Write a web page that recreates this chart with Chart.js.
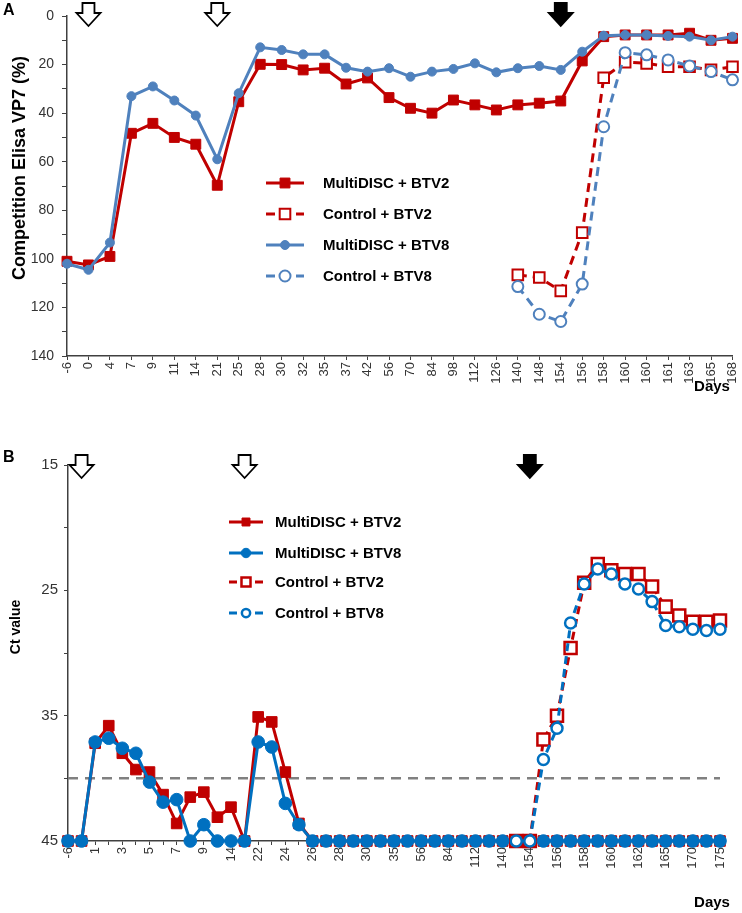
<!DOCTYPE html>
<html>
<head>
<meta charset="utf-8">
<script src="https://cdn.jsdelivr.net/npm/chart.js@4.4.1/dist/chart.umd.min.js"></script>
<style>
  body { margin: 0; background: #fff; }
  canvas { position: absolute; left: 0; }
  #panelA { top: 0; }
  #panelB { top: 440px; }
</style>
</head>
<body>
<canvas id="panelA" width="742" height="440"></canvas>
<canvas id="panelB" width="742" height="473"></canvas>
<script>
// ---- Panel A: Competition ELISA VP7 (%) ----
var diasA = ['-6','0','4','7','9','11','14','21','25','28','30','32','35','37','42','56','70','84','98','112','126','140','148','154','156','158','160','160','161','163','165','168'];
var multiBtv2A = [101, 102.5, 99, 48.3, 44.2, 50, 52.8, 69.7, 35.3, 19.9, 20, 22.2, 21.5, 28, 25.5, 33.6, 38, 40, 34.6, 36.6, 38.7, 36.6, 35.9, 35, 18.5, 8.5, 7.8, 7.8, 7.8, 7.1, 10, 9.2];
var multiBtv8A = [102, 104.5, 93.3, 33, 29, 34.8, 41, 59, 31.8, 12.9, 14, 15.8, 15.8, 21.3, 22.9, 21.5, 25, 22.9, 21.8, 19.5, 23.2, 21.5, 20.6, 22.2, 14.7, 8.1, 7.8, 7.8, 8.2, 8.5, 10, 8.5];
var controlBtv2A = [null, null, null, null, null, null, null, null, null, null, null, null, null, null, null, null, null, null, null, null, null,
  106.6, 107.7, 113.2, 89.2, 25.4, 19, 19.5, 20.9, 20.9, 22.2, 20.9];
var controlBtv8A = [null, null, null, null, null, null, null, null, null, null, null, null, null, null, null, null, null, null, null, null, null,
  111.4, 122.8, 125.8, 110.4, 45.6, 15.1, 16, 18.1, 20.6, 22.9, 26.3];

// ---- Panel B: Ct value (RT-PCR) ----
var diasB = ['-6','0','1','2','3','4','5','6','7','8','9','10','14','21','22','23','24','25','26','27','28','29','30','32','35','42','56','70','84','98','112','126','140','148','154','155','156','157','158','159','160','161','162','163','165','168','170','172','175'];
var multiBtv2B = [45, 45, 37.2, 35.8, 38.0, 39.3, 39.5, 41.3, 43.6, 41.5, 41.1, 43.1, 42.3, 45, 35.1, 35.5, 39.5, 43.6,
  45, 45, 45, 45, 45, 45, 45, 45, 45, 45, 45, 45, 45, 45, 45, 45, 45, 45, 45, 45, 45, 45, 45, 45, 45, 45, 45, 45, 45, 45, 45];
var multiBtv8B = [45, 45, 37.1, 36.8, 37.6, 38.0, 40.3, 41.9, 41.7, 45, 43.7, 45, 45, 45, 37.1, 37.5, 42.0, 43.7,
  45, 45, 45, 45, 45, 45, 45, 45, 45, 45, 45, 45, 45, 45, 45, 45, 45, 45, 45, 45, 45, 45, 45, 45, 45, 45, 45, 45, 45, 45, 45];
var controlBtv2B = [null, null, null, null, null, null, null, null, null, null, null, null, null, null, null, null, null, null,
  null, null, null, null, null, null, null, null, null, null, null, null, null, null, null,
  45, 45, 36.9, 35.0, 29.6, 24.4, 22.9, 23.4, 23.7, 23.7, 24.7, 26.3, 27.0, 27.5, 27.5, 27.4];
var controlBtv8B = [null, null, null, null, null, null, null, null, null, null, null, null, null, null, null, null, null, null,
  null, null, null, null, null, null, null, null, null, null, null, null, null, null, null,
  45, 45, 38.5, 36.0, 27.6, 24.5, 23.3, 23.7, 24.5, 24.9, 25.9, 27.8, 27.9, 28.1, 28.2, 28.1];

var ROJO = '#C00000', AZUL_A = '#4F81BD', AZUL_B = '#0070C0';
var EJE = '#404040';

// marcador para la leyenda dibujada a mano
function marcador(ctx, estilo, x, y, r, relleno, borde, ancho) {
  ctx.save();
  ctx.setLineDash([]);
  ctx.beginPath();
  if (estilo === 'rect') {
    var s = r * Math.SQRT1_2;
    ctx.rect(x - s, y - s, 2 * s, 2 * s);
  } else {
    ctx.arc(x, y, r, 0, Math.PI * 2);
  }
  ctx.fillStyle = relleno;
  ctx.fill();
  ctx.lineWidth = ancho;
  ctx.strokeStyle = borde;
  ctx.stroke();
  ctx.restore();
}

// flecha de vacunacion / desafio
function flecha(ctx, cx, y0, rellena) {
  ctx.save();
  ctx.beginPath();
  ctx.moveTo(cx - 6, y0);
  ctx.lineTo(cx + 6, y0);
  ctx.lineTo(cx + 6, y0 + 10);
  ctx.lineTo(cx + 12, y0 + 10);
  ctx.lineTo(cx, y0 + 23);
  ctx.lineTo(cx - 12, y0 + 10);
  ctx.lineTo(cx - 6, y0 + 10);
  ctx.closePath();
  ctx.fillStyle = rellena ? '#000' : '#fff';
  ctx.fill();
  ctx.lineWidth = 1.8;
  ctx.strokeStyle = '#000';
  ctx.stroke();
  ctx.restore();
}

var extras = {
  id: 'extras',
  beforeDatasetsDraw: function(chart, args, o) {
    if (!o.umbral) return;
    var ctx = chart.ctx, a = chart.chartArea;
    var y = chart.scales.y.getPixelForValue(o.umbral);
    ctx.save();
    ctx.strokeStyle = '#808080';
    ctx.lineWidth = 2.5;
    ctx.setLineDash([10, 7]);
    ctx.beginPath();
    ctx.moveTo(a.left, y);
    ctx.lineTo(a.right, y);
    ctx.stroke();
    ctx.restore();
  },
  afterDraw: function(chart, args, o) {
    var ctx = chart.ctx;
    var x = chart.scales.x;
    var labels = chart.data.labels;

    // flechas
    o.flechas.forEach(function(f) {
      flecha(ctx, x.getPixelForValue(labels.indexOf(f.dia)), o.flechaY, f.rellena);
    });

    // leyenda
    o.leyenda.forEach(function(item) {
      var ds = chart.data.datasets[item.ds];
      ctx.save();
      ctx.strokeStyle = ds.borderColor;
      ctx.lineWidth = ds.borderWidth;
      ctx.setLineDash(ds.borderDash || []);
      ctx.beginPath();
      ctx.moveTo(o.lx1, item.y);
      ctx.lineTo(o.lx2, item.y);
      ctx.stroke();
      ctx.restore();
      marcador(ctx, ds.pointStyle, (o.lx1 + o.lx2) / 2, item.y, ds.pointRadius * o.escala,
        ds.pointBackgroundColor, ds.pointBorderColor, ds.pointBorderWidth);
      ctx.save();
      ctx.fillStyle = '#000';
      ctx.font = 'bold 15px "Liberation Sans", Arial, sans-serif';
      ctx.textBaseline = 'middle';
      ctx.fillText(ds.label, o.tx, item.y + 1);
      ctx.restore();
    });

    // textos: letra del panel, titulo del eje y, "Days"
    ctx.save();
    ctx.fillStyle = '#000';
    ctx.font = 'bold 16px "Liberation Sans", Arial, sans-serif';
    ctx.textBaseline = 'alphabetic';
    ctx.textAlign = 'left';
    ctx.fillText(o.letra, 3, o.letraY);

    ctx.font = 'bold 15px "Liberation Sans", Arial, sans-serif';
    ctx.textAlign = 'center';
    ctx.fillText('Days', 712, o.daysY);

    ctx.translate(o.tituloX, o.tituloY);
    ctx.rotate(-Math.PI / 2);
    ctx.font = 'bold ' + o.tituloSize + 'px "Liberation Sans", Arial, sans-serif';
    ctx.textBaseline = 'middle';
    ctx.fillText(o.titulo, 0, 0);
    ctx.restore();
  }
};

function ejeX(alto) {
  return {
    type: 'category',
    offset: false,
    ticks: { autoSkip: false, minRotation: 90, maxRotation: 90, padding: 2, color: '#333',
      font: { family: '"Liberation Sans", Arial, sans-serif', size: 13 } },
    grid: { drawOnChartArea: false, tickLength: 4, color: EJE },
    border: { color: EJE, width: 1.5 },
    afterFit: function(s) { s.height = alto; s.paddingLeft = 0; s.paddingRight = 0; }
  };
}

// ---------- Grafico A ----------
new Chart(document.getElementById('panelA').getContext('2d'), {
  type: 'line',
  data: {
    labels: diasA,
    datasets: [
      { label: 'MultiDISC + BTV2', data: multiBtv2A, borderColor: ROJO, backgroundColor: ROJO, borderWidth: 3,
        pointStyle: 'rect', pointRadius: 7, pointBackgroundColor: ROJO, pointBorderColor: ROJO, pointBorderWidth: 1, order: 3 },
      { label: 'Control + BTV2', data: controlBtv2A, borderColor: ROJO, backgroundColor: ROJO, borderWidth: 3, borderDash: [9, 6],
        pointStyle: 'rect', pointRadius: 7.5, pointBackgroundColor: '#fff', pointBorderColor: ROJO, pointBorderWidth: 2, order: 1 },
      { label: 'MultiDISC + BTV8', data: multiBtv8A, borderColor: AZUL_A, backgroundColor: AZUL_A, borderWidth: 3,
        pointStyle: 'circle', pointRadius: 4.5, pointBackgroundColor: AZUL_A, pointBorderColor: AZUL_A, pointBorderWidth: 1, order: 2 },
      { label: 'Control + BTV8', data: controlBtv8A, borderColor: AZUL_A, backgroundColor: AZUL_A, borderWidth: 3, borderDash: [9, 6],
        pointStyle: 'circle', pointRadius: 5.5, pointBackgroundColor: '#fff', pointBorderColor: AZUL_A, pointBorderWidth: 2, order: 0 }
    ]
  },
  options: {
    responsive: false,
    animation: false,
    events: [],
    devicePixelRatio: 1,
    layout: { padding: { left: 0, top: 16, right: 4, bottom: 0 } },
    datasets: { line: { tension: 0, clip: false, spanGaps: false } },
    scales: {
      x: ejeX(84),
      y: {
        reverse: true, min: 0, max: 140,
        ticks: { stepSize: 10, autoSkip: false, padding: 8, color: '#333',
          font: { family: '"Liberation Sans", Arial, sans-serif', size: 14 },
          callback: function(v) { return v % 20 === 0 ? v : ''; } },
        grid: { drawOnChartArea: false, tickLength: 5, color: EJE },
        border: { color: EJE, width: 1.5 },
        afterFit: function(s) { s.width = 67; s.paddingTop = 0; s.paddingBottom = 0; }
      }
    },
    plugins: {
      legend: { display: false },
      tooltip: { enabled: false },
      extras: {
        flechas: [{ dia: '0', rellena: false }, { dia: '21', rellena: false }, { dia: '154', rellena: true }],
        flechaY: 3,
        leyenda: [{ ds: 0, y: 183 }, { ds: 1, y: 214 }, { ds: 2, y: 245 }, { ds: 3, y: 276 }],
        lx1: 266, lx2: 304, tx: 323, escala: 1,
        letra: 'A', letraY: 15,
        titulo: 'Competition Elisa VP7 (%)', tituloX: 20, tituloY: 168, tituloSize: 18,
        daysY: 391
      }
    }
  },
  plugins: [extras]
});

// ---------- Grafico B ----------
new Chart(document.getElementById('panelB').getContext('2d'), {
  type: 'line',
  data: {
    labels: diasB,
    datasets: [
      { label: 'MultiDISC + BTV2', data: multiBtv2B, borderColor: ROJO, backgroundColor: ROJO, borderWidth: 3,
        pointStyle: 'rect', pointRadius: 7.5, pointBackgroundColor: ROJO, pointBorderColor: ROJO, pointBorderWidth: 1, order: 3 },
      { label: 'MultiDISC + BTV8', data: multiBtv8B, borderColor: AZUL_B, backgroundColor: AZUL_B, borderWidth: 3,
        pointStyle: 'circle', pointRadius: 6.3, pointBackgroundColor: AZUL_B, pointBorderColor: AZUL_B, pointBorderWidth: 1, order: 2 },
      { label: 'Control + BTV2', data: controlBtv2B, borderColor: ROJO, backgroundColor: ROJO, borderWidth: 3, borderDash: [8, 5],
        pointStyle: 'rect', pointRadius: 8.5, pointBackgroundColor: '#fff', pointBorderColor: ROJO, pointBorderWidth: 2.5, order: 1 },
      { label: 'Control + BTV8', data: controlBtv8B, borderColor: AZUL_B, backgroundColor: AZUL_B, borderWidth: 3, borderDash: [8, 5],
        pointStyle: 'circle', pointRadius: 5.5, pointBackgroundColor: '#fff', pointBorderColor: AZUL_B, pointBorderWidth: 2.5, order: 0 }
    ]
  },
  options: {
    responsive: false,
    animation: false,
    events: [],
    devicePixelRatio: 1,
    layout: { padding: { left: 0, top: 25, right: 22, bottom: 0 } },
    datasets: { line: { tension: 0, clip: false, spanGaps: false } },
    scales: {
      x: (function() {
        var e = ejeX(72);
        e.ticks.callback = function(v, i) { return i % 2 === 0 ? this.getLabelForValue(v) : ''; };
        return e;
      })(),
      y: {
        reverse: true, min: 15, max: 45,
        ticks: { stepSize: 5, autoSkip: false, padding: 6, color: '#333',
          font: { family: '"Liberation Sans Narrow", "Liberation Sans", Arial, sans-serif', size: 15 },
          callback: function(v) { return (v - 15) % 10 === 0 ? v : ''; } },
        grid: { drawOnChartArea: false, tickLength: 4, color: EJE },
        border: { color: EJE, width: 1.5 },
        afterFit: function(s) { s.width = 68; s.paddingTop = 0; s.paddingBottom = 0; }
      }
    },
    plugins: {
      legend: { display: false },
      tooltip: { enabled: false },
      extras: {
        umbral: 40,
        flechas: [{ dia: '0', rellena: false }, { dia: '21', rellena: false }, { dia: '154', rellena: true }],
        flechaY: 15,
        leyenda: [{ ds: 0, y: 82 }, { ds: 1, y: 113 }, { ds: 2, y: 142 }, { ds: 3, y: 173 }],
        lx1: 229, lx2: 263, tx: 275, escala: 0.75,
        letra: 'B', letraY: 22,
        titulo: 'Ct value', tituloX: 16, tituloY: 187, tituloSize: 14,
        daysY: 467
      }
    }
  },
  plugins: [extras]
});
</script>
</body>
</html>
